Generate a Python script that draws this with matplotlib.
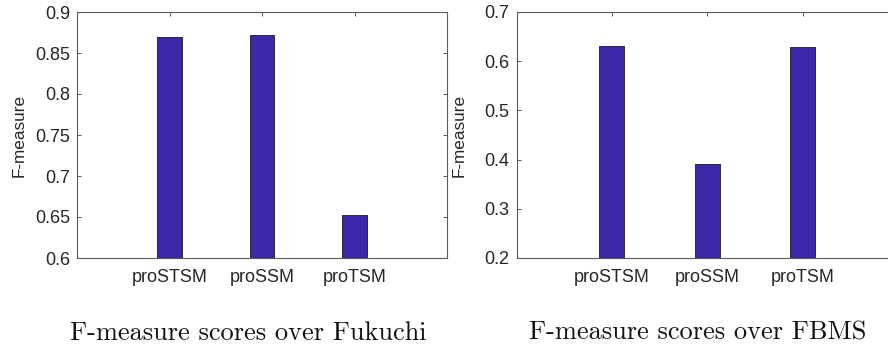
import matplotlib
matplotlib.use("Agg")
import matplotlib.pyplot as plt

categories = ["proSTSM", "proSSM", "proTSM"]
fukuchi_vals = [0.869, 0.872, 0.653]
fbms_vals = [0.631, 0.391, 0.629]
fukuchi_yticks = [0.6, 0.65, 0.7, 0.75, 0.8, 0.85, 0.9]
fukuchi_yticklabels = ["0.6", "0.65", "0.7", "0.75", "0.8", "0.85", "0.9"]
fbms_yticks = [0.2, 0.3, 0.4, 0.5, 0.6, 0.7]
fbms_yticklabels = ["0.2", "0.3", "0.4", "0.5", "0.6", "0.7"]
captions = ["F-measure scores over Fukuchi", "F-measure scores over FBMS"]

bar_color = "#3E26A8"
text_color = "#262626"
spine_color = "#5a5a5a"

fig = plt.figure(figsize=(8.88, 3.48), dpi=100)
ax1 = fig.add_axes([77 / 888, 90 / 348, 370 / 888, 246 / 348])
ax2 = fig.add_axes([516.5 / 888, 90 / 348, 381.5 / 888, 246 / 348])

def style(ax, vals, yticks, ylabels, ylim):
    x = list(range(1, len(categories) + 1))
    ax.bar(x, vals, width=0.26, color=bar_color, edgecolor="#1a1a1a", linewidth=0.6, zorder=2)
    ax.set_xlim(0, 4)
    ax.set_ylim(*ylim)
    ax.set_xticks(x)
    ax.set_xticklabels(categories, family="Liberation Sans", fontsize=13, color=text_color)
    ax.set_yticks(yticks)
    ax.set_yticklabels(ylabels, family="Liberation Sans", fontsize=13, color=text_color)
    ax.tick_params(direction="in", length=3, width=0.7, color=spine_color,
                   top=True, right=True)
    ax.tick_params(axis="x", pad=8)
    ax.tick_params(axis="y", pad=5)
    for s in ax.spines.values():
        s.set_color(spine_color)
        s.set_linewidth(0.8)
    ax.set_ylabel("F-measure", family="Liberation Sans", fontsize=12.3, color=text_color, labelpad=4)

style(ax1, fukuchi_vals, fukuchi_yticks, fukuchi_yticklabels, (0.6, 0.9))
style(ax2, fbms_vals, fbms_yticks, fbms_yticklabels, (0.2, 0.7))
ax1.yaxis.set_label_coords(-50 / 370, 0.5)
ax2.yaxis.set_label_coords(-50 / 381.5, 0.5)

fig.text(248 / 888, 8 / 348, captions[0], family="cmr10", fontsize=19,
         ha="center", va="baseline", color="#111111")
fig.text(697.5 / 888, 8 / 348, captions[1], family="cmr10", fontsize=19,
         ha="center", va="baseline", color="#111111")

fig.savefig("out.png", dpi=100)
